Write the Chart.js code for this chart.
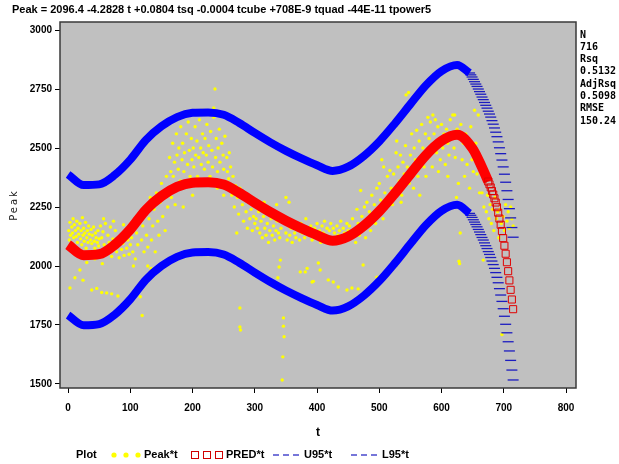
<!DOCTYPE html>
<html>
<head>
<meta charset="utf-8">
<script src="https://cdn.jsdelivr.net/npm/chart.js@4.4.0/dist/chart.umd.min.js"></script>
<style>
  html, body { margin: 0; padding: 0; background: #fff; }
  #chart { display: block; }
</style>
</head>
<body>
<canvas id="chart" width="619" height="464"></canvas>
<script>
const titleText = "Peak = 2096.4 -4.2828 t +0.0804 tsq -0.0004 tcube +708E-9 tquad -44E-11 tpower5";
const statLines = ["N", "716", "Rsq", "0.5132", "AdjRsq", "0.5098", "RMSE", "150.24"];
const legendNames = ["Peak*t", "PRED*t", "U95*t", "L95*t"];

const xTicks = [0, 100, 200, 300, 400, 500, 600, 700, 800];
const yTicks = [1500, 1750, 2000, 2250, 2500, 2750, 3000];

// fitted curve
const predT = [0,25,50,75,100,125,150,175,200,225,250,275,300,325,350,375,400,425,450,475,500,525,550,575,600,625,650,665,675];
const predV = [2090,2046,2050,2090,2155,2238,2296,2335,2353,2355,2345,2310,2268,2228,2192,2160,2131,2107,2125,2170,2232,2308,2390,2470,2530,2556,2497,2418,2358];
const predTailT = [675,677,679,681,683,685,687,689,691,693,695,697,699,701,703,705,707,709,711,713,715];
const predTailV = [2358,2346,2333,2318,2303,2287,2269,2249,2226,2201,2175,2148,2118,2086,2052,2016,1978,1939,1899,1858,1817];

// 95% limits
const bandT = [0,25,50,75,100,125,150,175,200,225,250,275,300,325,350,375,400,425,450,475,500,525,550,575,600,625,645];
const u95V = [2388,2343,2346,2386,2451,2534,2592,2631,2649,2651,2641,2606,2564,2524,2488,2456,2427,2403,2421,2466,2528,2604,2686,2766,2826,2852,2818];
const l95V = [1792,1749,1754,1794,1859,1942,2000,2039,2057,2059,2049,2014,1972,1932,1896,1864,1835,1811,1829,1874,1936,2012,2094,2174,2234,2260,2223];
const bandTailT = [645,647,649,651,653,655,657,659,661,663,665,667,669,671,673,675,677,679,681,683,685,687,689,691,693,695,697,699,701,703,705,707,709,711,713,715];
const u95TailV = [2818,2810,2801,2791,2781,2771,2761,2750,2739,2728,2716,2705,2693,2681,2669,2656,2644,2631,2616,2601,2585,2567,2548,2526,2501,2476,2449,2420,2389,2355,2319,2282,2243,2204,2163,2122];
const l95TailV = [2223,2215,2206,2196,2186,2176,2166,2155,2144,2133,2121,2110,2098,2086,2074,2061,2049,2036,2021,2006,1990,1972,1952,1929,1904,1877,1850,1819,1787,1753,1717,1679,1640,1600,1559,1517];

// observed Peak values [t, Peak]
const peakObs = [
  [1,2150],[2,2110],[3,2185],[4,2130],[5,2095],[6,2165],[7,2140],[8,2200],[9,2120],[10,2175],
  [11,2080],[12,2150],[13,2125],[14,2190],[15,2100],[16,2160],[17,2135],[18,2070],[19,2180],[20,2115],
  [21,2150],[22,2090],[23,2205],[24,2130],[25,2160],[26,2105],[27,2140],[28,2185],[29,2075],[30,2120],
  [31,2150],[32,2100],[33,2170],[34,2135],[35,2060],[36,2110],[37,2155],[38,2095],[39,2130],[40,2040],
  [41,2165],[42,2105],[43,2075],[44,2140],[45,2120],[46,2055],[47,2100],[48,2150],[49,2085],[50,2115],
  [3,1907],[11,1950],[19,1983],[24,1940],[38,1898],[46,1905],[54,1888],[62,1886],[70,1882],[80,1873],
  [35,2035],[43,2030],[30,2015],[55,2010],
  [52,2170],[54,2120],[56,2145],[58,2090],[60,2180],[62,2060],[64,2130],[66,2100],[68,2165],[70,2040],
  [72,2115],[74,2080],[76,2150],[78,2060],[80,2105],[82,2035],[84,2125],[86,2070],[88,2095],[90,2045],
  [92,2140],[94,2075],[96,2110],[98,2050],[100,2090],[57,2200],[73,2190],[89,2175],
  [102,2120],[104,2060],[106,2180],[108,2030],[110,2140],[112,2090],[114,2220],[116,1870],[118,2110],[119,1790],
  [120,2170],[122,2060],[124,2250],[126,2130],[128,2080],[130,2200],[132,2290],[134,2110],[136,2170],[138,2240],
  [140,2060],[142,2310],[144,2190],[146,2130],[148,2270],[150,2350],[152,2210],[154,2290],[156,2150],[158,2380],
  [160,2250],[124,1950],[133,1990],[105,2000],[128,2000],[137,1960],
  [162,2330],[163,2460],[165,2400],[166,2290],[168,2520],[169,2380],[171,2440],[172,2340],[174,2560],[175,2470],
  [177,2410],[178,2500],[180,2360],[181,2590],[183,2450],[184,2520],[186,2400],[187,2480],[189,2340],[190,2560],
  [192,2430],[193,2610],[195,2490],[196,2380],[198,2540],[199,2450],[201,2500],[202,2420],[204,2590],[205,2470],
  [207,2530],[208,2380],[210,2460],[211,2620],[213,2500],[214,2430],[216,2560],[217,2480],[219,2410],[220,2540],
  [222,2470],[223,2600],[225,2440],[226,2510],[228,2380],[229,2570],[231,2490],[232,2420],[234,2630],[236,2750],
  [237,2460],[238,2540],[240,2400],[241,2500],[243,2580],[244,2440],[246,2360],[247,2520],[249,2470],[250,2410],
  [252,2550],[253,2330],[255,2460],[256,2400],[258,2370],[259,2480],[234,2670],[216,2660],[200,2300],[185,2250],
  [172,2260],[240,2330],[250,2300],
  [261,2420],[263,2300],[265,2380],[267,2250],[269,2340],[271,2140],[272,2290],[274,2220],[276,2330],[276,1822],
  [276,1742],[277,1729],[280,2260],[282,2190],[284,2300],[286,2230],[288,2160],[290,2270],[292,2200],[294,2240],
  [296,2150],[298,2210],[300,2180],
  [302,2200],[304,2160],[306,2230],[308,2140],[310,2190],[312,2120],[314,2210],[316,2160],[318,2130],[320,2180],
  [322,2100],[324,2150],[326,2200],[328,2130],[330,2170],[332,2110],[334,2150],[336,2190],[338,2140],[339,1996],
  [337,1950],[340,2120],[341,2025],[342,2160],[346,1780],[346,1745],[347,1700],[345,1615],[344,1517],[348,2180],
  [350,2140],[352,2110],[354,2170],[356,2130],[358,2160],[360,2100],[362,2190],[364,2140],[366,2120],[368,2170],
  [370,2150],[372,2110],[373,1975],[374,2180],[376,2140],[378,2160],[380,2120],[382,2200],[384,1990],[386,2150],
  [388,2130],[390,2170],[392,2110],[394,1935],[396,2160],[398,2140],[400,2180],[402,2120],[404,2150],[406,2100],
  [408,2170],[410,2140],[412,2190],[414,2130],[416,2160],[418,2110],[420,2150],[422,2180],[424,2120],[426,2160],
  [428,2140],[430,2100],[432,2170],[434,2130],[436,2150],[438,2190],[440,2120],[442,2160],[444,2140],[446,2110],
  [448,2180],[450,2150],[350,2290],[355,2270],[315,2270],[335,2260],
  [381,1975],[392,1932],[402,2013],[405,1983],[418,1941],[426,1932],[434,1911],[448,1898],[456,1907],[466,1903],
  [474,2004],[488,1907],[496,1953],
  [452,2170],[455,2120],[457,2200],[460,2150],[462,2100],[464,2240],[466,2180],[468,2130],[470,2320],[472,2210],
  [474,2160],[476,2250],[478,2120],[480,2270],[482,2190],[484,2230],[486,2150],[488,2300],[490,2210],[492,2260],
  [494,2180],[496,2330],[498,2240],[500,2350],[502,2280],[504,2450],[506,2200],[507,2420],[509,2310],[511,2250],
  [513,2380],[515,2290],[517,2405],[519,2330],
  [521,2260],[523,2390],[525,2330],[527,2480],[528,2530],[530,2420],[532,2360],[534,2470],[536,2300],[538,2440],
  [540,2390],[542,2510],[543,2725],[545,2420],[547,2735],[548,2350],[550,2470],[552,2560],[554,2410],[556,2500],
  [558,2450],[560,2575],[562,2380],[564,2530],[566,2460],[568,2600],[570,2500],[572,2420],[574,2560],[576,2470],
  [578,2630],[580,2540],[582,2610],[584,2500],[586,2640],[588,2560],[590,2620],[592,2480],[594,2590],[596,2530],
  [598,2450],[600,2600],[602,2500],[604,2560],[606,2430],[608,2580],[610,2520],[612,2470],[614,2620],[616,2550],
  [618,2640],[620,2500],[535,2270],[555,2330],[575,2380],[595,2400],[610,2380],[565,2300],[585,2420],
  [621,2640],[622,2460],[624,2290],[625,2580],[627,2350],[628,2020],[629,2010],[630,2140],[631,2600],[633,2450],
  [635,2520],[637,2380],[639,2560],[641,2430],[643,2500],[645,2330],[647,2590],[649,2450],[651,2400],[653,2660],
  [655,2520],[657,2390],[659,2640],[661,2310],[663,2460],[665,2310],[667,2025],[668,2250],[670,2360],[672,2230],
  [674,2300],[676,2200],[678,2260],[680,2180],[682,2240],[684,2150],[686,2290],[688,2200],[690,2230],[692,2120],
  [694,2240],[696,2180],[697,1710],[699,2210],[701,2150],[703,2260],[705,2190],[707,2230],[709,2160],[711,2250],
  [713,2200],[715,2170]
];

const RED = "#ff0000";
const BLUE = "#0000ff";
const DASH_BLUE = "#1c1cc0";
const YELLOW = "#ffff00";

function pairs(ts, vs) {
  return ts.map((t, i) => ({ x: t, y: vs[i] }));
}

const tickFont = { family: "'Liberation Sans', Arial, sans-serif", size: 10, weight: "bold" };

const decor = {
  id: "decor",
  beforeDraw(chart) {
    const { ctx, chartArea: a } = chart;
    ctx.save();
    ctx.fillStyle = "#c0c0c0";
    ctx.fillRect(a.left, a.top, a.right - a.left, a.bottom - a.top);
    ctx.restore();
  },
  afterDraw(chart) {
    const { ctx, chartArea: a } = chart;
    ctx.save();
    // frame
    ctx.strokeStyle = "#3a3a3a";
    ctx.lineWidth = 1.5;
    ctx.strokeRect(a.left, a.top, a.right - a.left, a.bottom - a.top);

    ctx.fillStyle = "#000";
    ctx.textBaseline = "middle";
    ctx.textAlign = "left";

    // title
    ctx.font = "bold 11px 'Liberation Sans', Arial, sans-serif";
    ctx.fillText(titleText, 12, 10, 493);

    // stats column
    ctx.font = "bold 10px 'DejaVu Sans Mono', monospace";
    statLines.forEach((s, i) => {
      ctx.fillText(s, 580, 35 + i * 12.3);
    });

    // axis titles
    ctx.font = "bold 12px 'Liberation Sans', Arial, sans-serif";
    ctx.textAlign = "center";
    ctx.fillText("t", (a.left + a.right) / 2, 433);

    ctx.save();
    ctx.translate(14, 205);
    ctx.rotate(-Math.PI / 2);
    ctx.font = "10px 'DejaVu Sans', sans-serif";
    ctx.fillStyle = "#222";
    ctx.letterSpacing = "2px";
    ctx.fillText("Peak", 0, 0);
    ctx.restore();

    // legend
    const ly = 455;
    ctx.textAlign = "left";
    ctx.font = "bold 11px 'Liberation Sans', Arial, sans-serif";
    ctx.fillText("Plot", 76, ly);

    ctx.fillStyle = YELLOW;
    [114, 126, 138].forEach(x => {
      ctx.beginPath();
      ctx.arc(x, ly, 2.6, 0, Math.PI * 2);
      ctx.fill();
    });
    ctx.fillStyle = "#000";
    ctx.fillText(legendNames[0], 144, ly);

    ctx.strokeStyle = "#d00000";
    ctx.lineWidth = 1;
    [195, 207, 219].forEach(x => {
      ctx.strokeRect(x - 3.5, ly - 3.5, 7, 7);
    });
    ctx.fillText(legendNames[1], 226, ly);

    ctx.strokeStyle = DASH_BLUE;
    ctx.lineWidth = 1.2;
    [[273, legendNames[2], 304], [351, legendNames[3], 382]].forEach(([x0, name, tx]) => {
      for (let k = 0; k < 3; k++) {
        ctx.beginPath();
        ctx.moveTo(x0 + k * 10, ly);
        ctx.lineTo(x0 + k * 10 + 6, ly);
        ctx.stroke();
      }
      ctx.fillText(name, tx, ly);
    });
    ctx.restore();
  }
};

new Chart(document.getElementById("chart"), {
  type: "scatter",
  data: {
    datasets: [
      {
        label: "Peak*t",
        data: peakObs.map(p => ({ x: p[0], y: p[1] })),
        pointRadius: 1.7,
        pointBackgroundColor: YELLOW,
        pointBorderWidth: 0,
        order: 9
      },
      {
        label: "PRED*t",
        data: pairs(predT, predV),
        showLine: true,
        borderColor: RED,
        borderWidth: 10,
        pointRadius: 0,
        cubicInterpolationMode: "monotone",
        order: 3
      },
      {
        label: "PRED*t tail",
        data: pairs(predTailT, predTailV),
        pointStyle: "rect",
        pointRadius: 5,
        pointBackgroundColor: "rgba(0,0,0,0)",
        pointBorderColor: "#e00000",
        pointBorderWidth: 1,
        order: 2
      },
      {
        label: "U95*t",
        data: pairs(bandT, u95V),
        showLine: true,
        borderColor: BLUE,
        borderWidth: 8,
        pointRadius: 0,
        cubicInterpolationMode: "monotone",
        order: 4
      },
      {
        label: "U95*t tail",
        data: pairs(bandTailT, u95TailV),
        pointStyle: "line",
        pointRadius: 5.5,
        pointBorderColor: DASH_BLUE,
        pointBorderWidth: 1.3,
        order: 4
      },
      {
        label: "L95*t",
        data: pairs(bandT, l95V),
        showLine: true,
        borderColor: BLUE,
        borderWidth: 8,
        pointRadius: 0,
        cubicInterpolationMode: "monotone",
        order: 4
      },
      {
        label: "L95*t tail",
        data: pairs(bandTailT, l95TailV),
        pointStyle: "line",
        pointRadius: 5.5,
        pointBorderColor: DASH_BLUE,
        pointBorderWidth: 1.3,
        order: 4
      }
    ]
  },
  options: {
    responsive: false,
    animation: false,
    events: [],
    layout: { padding: { top: 22, right: 43, bottom: 0, left: 0 } },
    plugins: {
      legend: { display: false },
      tooltip: { enabled: false },
      title: { display: false }
    },
    scales: {
      x: {
        type: "linear",
        min: -13,
        max: 816,
        afterBuildTicks: s => { s.ticks = xTicks.map(v => ({ value: v })); },
        afterFit: s => { s.height = 76; },
        border: { display: false },
        grid: { drawOnChartArea: false, color: "#000", tickLength: 5 },
        ticks: { padding: 9, color: "#000", font: tickFont, maxRotation: 0, autoSkip: false, callback: v => String(v) }
      },
      y: {
        type: "linear",
        min: 1483,
        max: 3034,
        afterBuildTicks: s => { s.ticks = yTicks.map(v => ({ value: v })); },
        afterFit: s => { s.width = 60; },
        border: { display: false },
        grid: { drawOnChartArea: false, color: "#000", tickLength: 5 },
        ticks: { padding: 3, color: "#000", font: tickFont, autoSkip: false, callback: v => String(v) }
      }
    }
  },
  plugins: [decor]
});
</script>
</body>
</html>
